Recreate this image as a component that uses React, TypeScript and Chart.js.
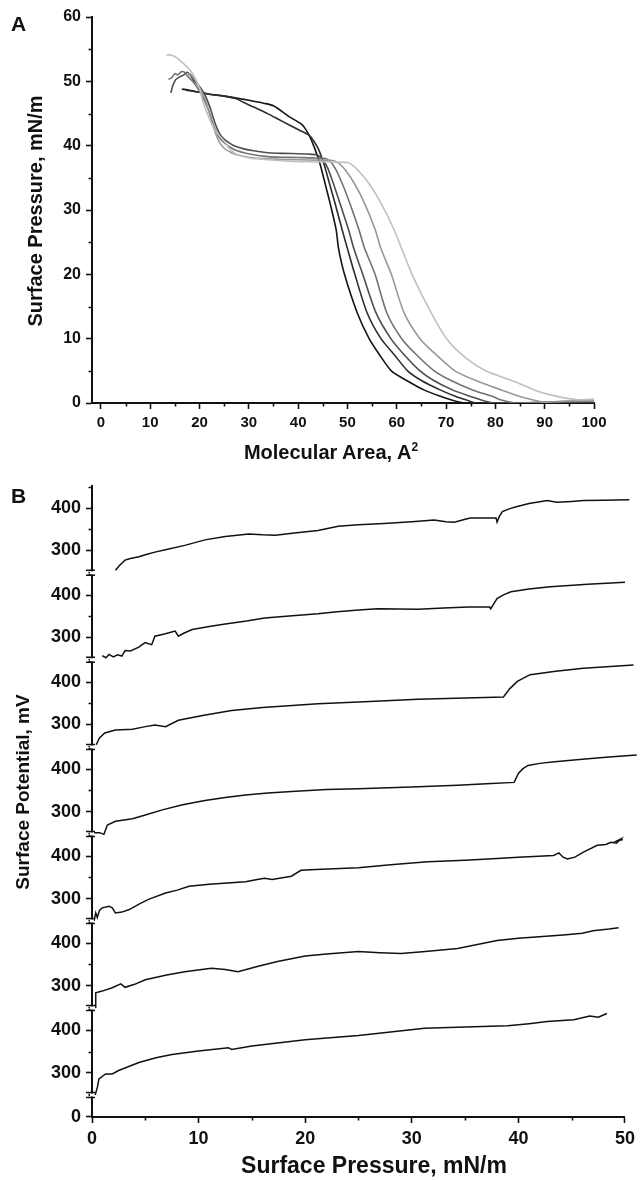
import React, { useEffect, useRef } from "react";
import { Chart, registerables } from "chart.js";

Chart.register(...registerables);

const FONT_FAMILY = '"Liberation Sans", Arial, Helvetica, sans-serif';

// ---------------- Panel A: pressure–area isotherms ----------------
const areaTickLabels = [0, 10, 20, 30, 40, 50, 60, 70, 80, 90, 100];
const pressureTickLabels = [0, 10, 20, 30, 40, 50, 60];
const isothermColors = ["#141414", "#2c2c2c", "#4e4e4e", "#727272", "#989898", "#c0c0c0"];

const iso1Area = [100, 90, 80, 75, 73.5, 71, 69, 65.6, 62, 58.9, 56.5, 54.4, 52, 49.4, 48.2, 47.7, 46.5, 45.5, 44.5, 43.4, 42.3, 41.3, 40.6, 38, 35, 33, 31, 29, 27.5, 25, 22, 20, 18, 16.4];
const iso1Pressure = [0, 0, 0, 0, 0, 0.5, 1, 2, 3.5, 5, 7.5, 10, 14, 20, 24, 27, 31, 34, 37, 39.5, 41.5, 42.8, 43.4, 44.6, 46.2, 46.6, 46.9, 47.2, 47.4, 47.7, 48.0, 48.3, 48.6, 48.8];

const iso2Area = [100, 90, 80, 76, 74, 72, 68.9, 65, 62.2, 59.5, 56.8, 54, 51.5, 50, 48.9, 47.5, 46.4, 45.3, 44.1, 43.1, 42.3, 40, 38, 36, 34, 31, 29, 27.5, 25, 22, 20, 18.5, 17.3];
const iso2Pressure = [0, 0, 0, 0, 0.5, 1, 2, 3.5, 5, 7.5, 10, 14, 20, 24, 27, 31, 34, 37, 39.5, 40.8, 41.6, 42.5, 43.3, 44.1, 44.9, 46.0, 46.7, 47.3, 47.7, 48.0, 48.3, 48.5, 48.6];

const iso3Area = [100, 90, 85, 81, 79.5, 77, 75, 71.4, 67.5, 64.7, 61.5, 58.8, 55.8, 53.1, 51.3, 50.2, 48.5, 47.2, 46.0, 45.0, 44.2, 43.7, 42, 40, 37, 34, 31, 29, 27, 25.5, 24.3, 23.5, 22.8, 22.2, 21.5, 20.8, 20, 19, 18.3, 17.5, 16.8, 16, 15.2, 14.6, 14.2];
const iso3Pressure = [0, 0, 0, 0, 0, 0.5, 1, 2, 3.5, 5, 7.5, 10, 14, 20, 24, 27, 31, 34, 36.5, 37.8, 38.4, 38.6, 38.7, 38.75, 38.8, 38.9, 39.2, 39.5, 40.0, 40.7, 41.6, 42.8, 44.3, 45.8, 47.2, 48.3, 49.2, 50.0, 50.8, 51.4, 51.0, 50.7, 50.3, 49.4, 48.2];

const iso4Area = [100, 92, 88, 85, 84, 81, 79.5, 75.5, 71, 67.6, 64, 61.0, 58, 55.6, 53.5, 52.3, 50.5, 49.0, 47.5, 46.3, 45.5, 43, 40, 37, 34, 31, 29, 27, 25.2, 24, 23.2, 22.5, 21.8, 21.0, 20.2, 19.4, 18.5, 17.6, 17.0, 16.3, 15.6, 15, 14.4, 13.7];
const iso4Pressure = [0.3, 0.2, 0.1, 0, 0, 0.5, 1, 2, 3.5, 5, 7.5, 10, 14, 20, 24, 27, 31, 34, 36.5, 37.7, 38.0, 38.1, 38.15, 38.2, 38.3, 38.6, 38.9, 39.4, 40.3, 41.3, 42.5, 44.0, 45.6, 47.0, 48.2, 49.2, 50.1, 50.8, 51.4, 51.5, 51.0, 51.2, 50.6, 50.3];

const iso5Area = [100, 95, 92, 90, 87.5, 85, 81.3, 76, 71.8, 68, 64.7, 61.5, 58.9, 56.8, 55.6, 53.5, 51.5, 49.5, 48.0, 47.0, 44, 40, 36, 33, 30, 28, 26.5, 25, 24, 23.3, 22.7, 22.1, 21.5, 20.8, 20, 19.3, 18.6, 18.0, 17.4];
const iso5Pressure = [0.4, 0.3, 0.2, 0.1, 0.5, 1, 2, 3.5, 5, 7.5, 10, 14, 20, 24, 27, 31, 34, 36.3, 37.4, 37.7, 37.75, 37.8, 37.9, 38.0, 38.2, 38.5, 38.9, 39.6, 40.6, 41.8, 43.2, 44.8, 46.4, 47.8, 49.0, 50.1, 50.8, 51.2, 50.7];

const iso6Area = [100, 97, 94, 91, 88, 84, 78, 74, 70.1, 67, 63.1, 59.3, 56.5, 54.0, 52.0, 50.6, 49.8, 46, 42, 38, 34, 30, 28, 27, 26, 25.2, 24.2, 23.2, 22.4, 21.8, 21.2, 20.8, 20.4, 20.1, 19.6, 19.1, 18.5, 17.8, 17.0, 16.2, 15.5, 14.8, 14.2, 13.3];
const iso6Pressure = [0.6, 0.5, 0.8, 1.3, 2.0, 3.3, 5.0, 7.0, 10, 14, 20, 27.2, 31.5, 34.5, 36.3, 37.2, 37.4, 37.45, 37.5, 37.6, 37.8, 38.1, 38.5, 38.9, 39.6, 40.5, 41.4, 42.3, 43.5, 44.6, 45.7, 46.6, 47.7, 48.7, 49.6, 50.5, 51.3, 52.0, 52.6, 53.1, 53.6, 53.9, 54.1, 54.1];

const isothermAreas = [iso1Area, iso2Area, iso3Area, iso4Area, iso5Area, iso6Area];
const isothermPressures = [iso1Pressure, iso2Pressure, iso3Pressure, iso4Pressure, iso5Pressure, iso6Pressure];

// ---------------- Panel B: surface potential vs surface pressure ----------------
const surfacePressureTickLabels = [0, 10, 20, 30, 40, 50];
const potentialTickLabels = [300, 400];
const zeroTickLabels = [0];

const pot1Pressure = [2.2, 2.6, 3.1, 3.6, 4.4, 5.0, 5.9, 7.0, 8.7, 10.6, 12.5, 14.7, 16.0, 17.2, 19.0, 21.2, 23.1, 25.0, 27.4, 30.0, 32.1, 33.2, 34.0, 35.0, 35.5, 37.0, 37.9, 38.0, 38.2, 38.5, 39.2, 39.9, 41.0, 42.7, 43.6, 45.0, 46.1, 48.0, 50.4];
const pot1Value = [253, 265, 277, 281, 285, 290, 296, 302, 312, 325, 333, 339, 337, 336, 341, 347, 357, 361, 364, 368, 372, 368, 367, 374, 377, 377, 377, 367, 380, 392, 399, 404, 411, 418, 414, 416, 418, 419, 420];

const pot2Pressure = [0.95, 1.3, 1.6, 2.0, 2.4, 2.8, 3.1, 3.6, 4.4, 4.7, 5.0, 5.3, 5.6, 5.9, 6.8, 7.8, 8.1, 8.6, 9.4, 11, 12.5, 14.5, 16.2, 18.5, 21.2, 23.0, 25.0, 26.8, 30.6, 33, 35.3, 37.3, 37.4, 37.7, 38.0, 38.6, 39.3, 41, 43.0, 46.5, 50.0];
const pot2Value = [257, 252, 260, 254, 259, 256, 269, 268, 277, 283, 288, 285, 283, 303, 308, 315, 303, 310, 319, 326, 332, 339, 346, 351, 356, 361, 365, 368, 367, 370, 372, 372, 368, 380, 392, 401, 408, 415, 420, 426, 431];

const pot3Pressure = [0.4, 0.7, 1.2, 2.2, 3.8, 5.0, 5.9, 6.9, 8.1, 10.5, 13.1, 16, 21.2, 25, 30.6, 35, 38.6, 39.2, 39.9, 41.1, 43.5, 46.1, 50.8];
const pot3Value = [252, 268, 280, 287, 289, 295, 299, 295, 310, 322, 333, 340, 349, 353, 360, 363, 365, 385, 402, 418, 426, 433, 441];

const pot4Pressure = [0.2, 0.7, 1.12, 1.44, 2.2, 3.8, 5, 6.6, 8.5, 10.6, 12.5, 14.4, 16.5, 19.1, 22, 25, 30, 34.3, 37, 39.6, 40.0, 40.4, 40.9, 42, 43.4, 46, 48.5, 51.1];
const pot4Value = [250, 250, 246, 268, 277, 283, 292, 304, 316, 326, 333, 339, 344, 348, 352, 354, 358, 362, 366, 369, 390, 401, 409, 414, 418, 424, 429, 434];

const pot5Pressure = [0.2, 0.35, 0.5, 0.7, 0.96, 1.6, 1.9, 2.2, 2.8, 3.5, 4.5, 5.3, 6.9, 8, 9.1, 11, 14.4, 15.5, 16.2, 16.9, 18.7, 19.6, 21, 25, 28, 31.5, 35, 38, 40, 43.3, 43.8, 44.2, 44.6, 45.3, 46.1, 47.4, 48.2, 48.7, 49.2, 49.6, 49.2, 49.8];
const pot5Value = [247, 266, 255, 272, 278, 282, 278, 266, 268, 274, 288, 298, 313, 320, 329, 334, 340, 345, 348, 345, 353, 367, 369, 373, 380, 387, 391, 395, 398, 402, 408, 398, 394, 398, 410, 426, 428, 433, 431, 441, 436, 440];

const pot6Pressure = [0.3, 0.35, 0.96, 1.9, 2.7, 3.1, 4, 5, 7, 8.7, 11.2, 12.5, 13.7, 15.5, 17.4, 20, 22, 25, 27, 29, 31, 34.3, 38, 40, 44.2, 46, 47, 48.5, 49.4];
const pot6Value = [248, 283, 287, 295, 304, 296, 303, 314, 325, 333, 341, 338, 333, 345, 357, 370, 375, 381, 378, 376, 380, 388, 407, 412, 420, 424, 430, 434, 437];

const pot7Pressure = [0.3, 0.5, 0.65, 1.27, 1.9, 2.5, 4.4, 6, 7.5, 10, 12.8, 13.1, 15, 17.4, 20, 25, 28, 31.2, 35, 39, 41, 42.7, 45.2, 46.7, 47.5, 48.3];
const pot7Value = [247, 265, 285, 297, 297, 305, 324, 335, 343, 351, 359, 355, 363, 370, 378, 388, 396, 405, 408, 411, 416, 421, 425, 434, 431, 440];

const potentialPressures = [pot1Pressure, pot2Pressure, pot3Pressure, pot4Pressure, pot5Pressure, pot6Pressure, pot7Pressure];
const potentialValues = [pot1Value, pot2Value, pot3Value, pot4Value, pot5Value, pot6Value, pot7Value];

const SEG_MIN = 247;
const SEG_MAX = 453;
const ZERO_MAX = 52;

const tickFont = (size: number) => ({ family: FONT_FAMILY, size, weight: "bold" as const });

// major ticks drawn by Chart.js; minor (unlabelled) ones hidden and redrawn shorter by a plugin
const axisGrid = {
  drawOnChartArea: false,
  drawTicks: true,
  tickLength: 6,
  tickWidth: 1.6,
  color: "#111",
  tickColor: (c: any) => (c.tick && c.tick.label === "" ? "rgba(0,0,0,0)" : "#111"),
};
const axisBorder = { display: true, color: "#111", width: 2 };

const minorTicks = {
  id: "minorTicks",
  afterDraw(chart: any) {
    const ctx = chart.ctx;
    ctx.save();
    ctx.strokeStyle = "#111";
    ctx.lineWidth = 1.6;
    ctx.beginPath();
    Object.values(chart.scales).forEach((s: any) => {
      (s.ticks || []).forEach((t: any) => {
        if (t.label !== "") return;
        const p = Math.round(s.getPixelForValue(t.value)) + 0.5;
        if (s.axis === "x") {
          ctx.moveTo(p, s.top);
          ctx.lineTo(p, s.top + 3.5);
        } else {
          ctx.moveTo(s.right - 3.5, p);
          ctx.lineTo(s.right, p);
        }
      });
    });
    ctx.stroke();
    ctx.restore();
  },
};

const axisBreaks = {
  id: "axisBreaks",
  afterDraw(chart: any) {
    const ctx = chart.ctx;
    const x = chart.chartArea.left;
    const tops: number[] = [];
    Object.values(chart.scales).forEach((s: any) => {
      if (s.axis === "y" && s.top > chart.chartArea.top + 2) tops.push(s.top);
    });
    ctx.save();
    tops.forEach((y) => {
      ctx.fillStyle = "#fff";
      ctx.fillRect(x - 2, y - 1.5, 4, 3);
      ctx.strokeStyle = "#111";
      ctx.lineWidth = 1.5;
      ctx.beginPath();
      ctx.moveTo(x - 6, y - 2.5);
      ctx.lineTo(x + 3, y - 2.5);
      ctx.moveTo(x - 6, y + 2.5);
      ctx.lineTo(x + 3, y + 2.5);
      ctx.stroke();
    });
    ctx.restore();
  },
};

function PanelA() {
  const ref = useRef<HTMLCanvasElement | null>(null);
  useEffect(() => {
    if (!ref.current) return;
    const datasets = isothermAreas.map((areas, i) => ({
      label: `isotherm ${i + 1}`,
      data: areas.map((a, j) => ({ x: a, y: isothermPressures[i][j] })),
      borderColor: isothermColors[i],
      borderWidth: 1.6,
      pointRadius: 0,
      tension: 0.25,
      fill: false,
    }));
    const chart = new Chart(ref.current, {
      type: "line",
      data: { datasets: datasets.reverse() },
      options: {
        responsive: false,
        animation: false,
        events: [],
        layout: { padding: { top: 17, right: 46, left: 0, bottom: 0 } },
        plugins: { legend: { display: false }, tooltip: { enabled: false } },
        scales: {
          x: {
            type: "linear",
            min: -1.8,
            max: 100,
            grid: axisGrid,
            border: axisBorder,
            ticks: {
              stepSize: 5,
              includeBounds: false,
              autoSkip: false,
              maxRotation: 0,
              padding: 5,
              color: "#111",
              font: tickFont(15),
              callback: (v: any) => (areaTickLabels.includes(Number(v)) ? String(v) : ""),
            },
            afterFit: (s: any) => {
              s.height = 77;
            },
          },
          y: {
            type: "linear",
            min: 0,
            max: 60,
            grid: axisGrid,
            border: axisBorder,
            ticks: {
              stepSize: 5,
              includeBounds: false,
              autoSkip: false,
              padding: 5,
              color: "#111",
              font: tickFont(16),
              callback: (v: any) => (pressureTickLabels.includes(Number(v)) ? String(v) : ""),
            },
            afterFit: (s: any) => {
              s.width = 92;
            },
          },
        },
      } as any,
      plugins: [minorTicks],
    });
    return () => chart.destroy();
  }, []);
  return <canvas ref={ref} width={640} height={480} style={{ position: "absolute", left: 0, top: 0, display: "block" }} />;
}

function PanelB() {
  const ref = useRef<HTMLCanvasElement | null>(null);
  useEffect(() => {
    if (!ref.current) return;
    const datasets = potentialPressures.map((ps, i) => ({
      label: `potential ${i + 1}`,
      data: ps.map((p, j) => ({ x: p, y: potentialValues[i][j] })),
      yAxisID: `seg${i + 1}`,
      borderColor: "#111",
      borderWidth: 1.5,
      pointRadius: 0,
      tension: 0,
      fill: false,
      clip: { left: 2, top: 3, right: 20, bottom: 3 },
    }));
    const segScale = () => ({
      type: "linear",
      position: "left",
      stack: "potential",
      stackWeight: SEG_MAX - SEG_MIN,
      min: SEG_MIN,
      max: SEG_MAX,
      grid: axisGrid,
      border: axisBorder,
      ticks: {
        stepSize: 50,
        includeBounds: false,
        autoSkip: false,
        padding: 5,
        color: "#111",
        font: tickFont(18),
        callback: (v: any) => (potentialTickLabels.includes(Number(v)) ? String(v) : ""),
      },
      afterFit: (s: any) => {
        s.width = 92;
      },
    });
    const scales: any = {
      x: {
        type: "linear",
        min: 0,
        max: 50,
        grid: axisGrid,
        border: axisBorder,
        ticks: {
          stepSize: 5,
          includeBounds: false,
          autoSkip: false,
          maxRotation: 0,
          padding: 5,
          color: "#111",
          font: tickFont(18),
          callback: (v: any) => (surfacePressureTickLabels.includes(Number(v)) ? String(v) : ""),
        },
        afterFit: (s: any) => {
          s.height = 63;
        },
      },
      zero: {
        type: "linear",
        position: "left",
        stack: "potential",
        stackWeight: ZERO_MAX,
        min: 0,
        max: ZERO_MAX,
        grid: axisGrid,
        border: axisBorder,
        ticks: {
          stepSize: 50,
          autoSkip: false,
          includeBounds: false,
          padding: 5,
          color: "#111",
          font: tickFont(18),
          callback: (v: any) => (zeroTickLabels.includes(Number(v)) ? String(v) : ""),
        },
        afterFit: (s: any) => {
          s.width = 92;
        },
      },
    };
    for (let k = 7; k >= 1; k--) scales[`seg${k}`] = segScale();
    const chart = new Chart(ref.current, {
      type: "line",
      data: { datasets },
      options: {
        responsive: false,
        animation: false,
        events: [],
        layout: { padding: { top: 2, right: 12, left: 0, bottom: 0 } },
        plugins: { legend: { display: false }, tooltip: { enabled: false } },
        scales,
      } as any,
      plugins: [minorTicks, axisBreaks],
    });
    return () => chart.destroy();
  }, []);
  return <canvas ref={ref} width={640} height={710} style={{ position: "absolute", left: 0, top: 470, display: "block" }} />;
}

const textBase: React.CSSProperties = {
  position: "absolute",
  fontFamily: FONT_FAMILY,
  fontWeight: "bold",
  color: "#111",
  lineHeight: 1,
  whiteSpace: "nowrap",
};

function Title({ x, y, size, rotate, children }: { x: number; y: number; size: number; rotate?: boolean; children: React.ReactNode }) {
  return (
    <div
      style={{
        ...textBase,
        left: x,
        top: y,
        fontSize: size,
        transform: `translate(-50%, -50%)${rotate ? " rotate(-90deg)" : ""}`,
      }}
    >
      {children}
    </div>
  );
}

export default function App() {
  useEffect(() => {
    document.body.style.margin = "0";
  }, []);
  return (
    <div style={{ position: "relative", width: 640, height: 1180, background: "#fff", overflow: "hidden" }}>
      <PanelA />
      <PanelB />
      <div style={{ ...textBase, fontSize: 21, left: 11, top: 13 }}>A</div>
      <div style={{ ...textBase, fontSize: 21, left: 11, top: 485 }}>B</div>
      <Title x={35} y={211} size={20} rotate>
        Surface Pressure, mN/m
      </Title>
      <Title x={331} y={451} size={20}>
        Molecular Area, A<sup style={{ fontSize: 12, verticalAlign: "8px" }}>2</sup>
      </Title>
      <Title x={22} y={792} size={19} rotate>
        Surface Potential, mV
      </Title>
      <Title x={374} y={1165} size={23}>
        Surface Pressure, mN/m
      </Title>
    </div>
  );
}
